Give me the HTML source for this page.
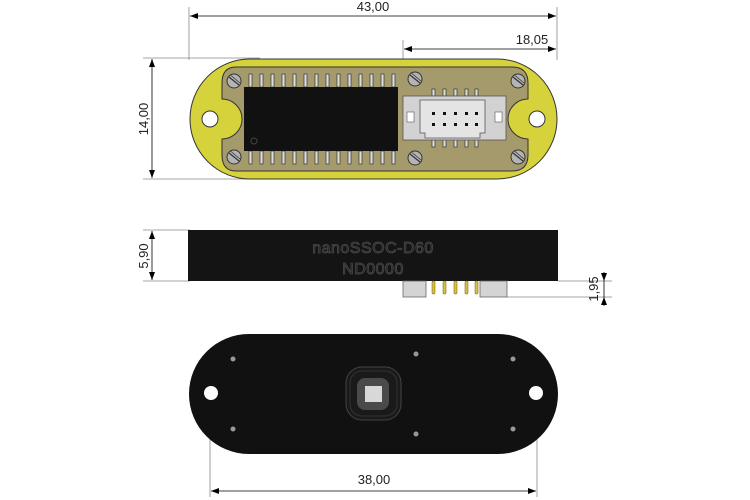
<!DOCTYPE html>
<html><head><style>html,body{margin:0;padding:0;background:#fff;}svg{display:block}</style></head>
<body>
<svg width="750" height="500" viewBox="0 0 750 500" xmlns="http://www.w3.org/2000/svg" font-family="'Liberation Sans', sans-serif">
<defs>
<marker id="a" markerWidth="8" markerHeight="6" refX="8" refY="3" orient="auto-start-reverse" markerUnits="userSpaceOnUse"><path d="M0,0 L8,3 L0,6 z" fill="#000"/></marker>
<g id="screw"><circle r="7" fill="#b4b4b4" stroke="#333" stroke-width="1"/><line x1="-5" y1="-4" x2="5" y2="4" stroke="#333" stroke-width="1.2"/><line x1="-3" y1="-5.5" x2="6" y2="2" stroke="#333" stroke-width="0.8"/></g>
</defs>
<g stroke="#888" stroke-width="0.8" fill="none">
<line x1="189" y1="7" x2="189" y2="60"/><line x1="557" y1="7" x2="557" y2="60"/>
<line x1="403" y1="40" x2="403" y2="96"/>
<line x1="143" y1="58" x2="260" y2="58"/><line x1="143" y1="179" x2="260" y2="179"/>
<line x1="143" y1="230" x2="190" y2="230"/><line x1="143" y1="281" x2="190" y2="281"/>
<line x1="558" y1="281" x2="612" y2="281"/><line x1="507" y1="297" x2="612" y2="297"/>
<line x1="210" y1="393" x2="210" y2="497"/><line x1="537" y1="393" x2="537" y2="497"/>
</g>
<g stroke="#000" stroke-width="0.8">
<line x1="190" y1="16" x2="556" y2="16" marker-start="url(#a)" marker-end="url(#a)"/>
<line x1="404" y1="49" x2="556" y2="49" marker-start="url(#a)" marker-end="url(#a)"/>
<line x1="152" y1="59" x2="152" y2="178" marker-start="url(#a)" marker-end="url(#a)"/>
<line x1="152" y1="231" x2="152" y2="280" marker-start="url(#a)" marker-end="url(#a)"/>
<line x1="604" y1="272" x2="604" y2="281" marker-end="url(#a)"/>
<line x1="604" y1="306" x2="604" y2="297" marker-end="url(#a)"/>
<line x1="604" y1="281" x2="604" y2="297"/>
<line x1="211" y1="491" x2="536" y2="491" marker-start="url(#a)" marker-end="url(#a)"/>
</g>
<g font-size="13" fill="#222" text-anchor="middle">
<text x="373" y="11">43,00</text>
<text x="532" y="44">18,05</text>
<text x="374" y="484">38,00</text>
<text transform="translate(148,119) rotate(-90)">14,00</text>
<text transform="translate(148,256) rotate(-90)">5,90</text>
<text transform="translate(598,289) rotate(-90)">1,95</text>
</g>
<rect x="190" y="59" width="367" height="120" rx="60" fill="#d6d23c" stroke="#333" stroke-width="1"/>
<path d="M236,67 H512 Q528,67 528,83 V99 A20,20 0 0 0 528,139 V155 Q528,171 512,171 H236 Q222,171 222,155 V139 A20,20 0 0 0 222,99 V83 Q222,67 236,67 Z" fill="#a59a6c" stroke="#333" stroke-width="1"/>
<circle cx="210" cy="119" r="8" fill="#fff" stroke="#333"/>
<circle cx="537" cy="119" r="8" fill="#fff" stroke="#333"/>
<g fill="#ddd" stroke="#333" stroke-width="0.7">
<rect x="249" y="74" width="3" height="13"/><rect x="260" y="74" width="3" height="13"/><rect x="271" y="74" width="3" height="13"/><rect x="282" y="74" width="3" height="13"/><rect x="293" y="74" width="3" height="13"/><rect x="304" y="74" width="3" height="13"/><rect x="315" y="74" width="3" height="13"/><rect x="326" y="74" width="3" height="13"/><rect x="337" y="74" width="3" height="13"/><rect x="348" y="74" width="3" height="13"/><rect x="359" y="74" width="3" height="13"/><rect x="370" y="74" width="3" height="13"/><rect x="381" y="74" width="3" height="13"/><rect x="392" y="74" width="3" height="13"/>
<rect x="249" y="151" width="3" height="13"/><rect x="260" y="151" width="3" height="13"/><rect x="271" y="151" width="3" height="13"/><rect x="282" y="151" width="3" height="13"/><rect x="293" y="151" width="3" height="13"/><rect x="304" y="151" width="3" height="13"/><rect x="315" y="151" width="3" height="13"/><rect x="326" y="151" width="3" height="13"/><rect x="337" y="151" width="3" height="13"/><rect x="348" y="151" width="3" height="13"/><rect x="359" y="151" width="3" height="13"/><rect x="370" y="151" width="3" height="13"/><rect x="381" y="151" width="3" height="13"/><rect x="392" y="151" width="3" height="13"/>
<rect x="432" y="89" width="3" height="7"/><rect x="443" y="89" width="3" height="7"/><rect x="454" y="89" width="3" height="7"/><rect x="465" y="89" width="3" height="7"/><rect x="475" y="89" width="3" height="7"/>
<rect x="432" y="140" width="3" height="7"/><rect x="443" y="140" width="3" height="7"/><rect x="454" y="140" width="3" height="7"/><rect x="465" y="140" width="3" height="7"/><rect x="475" y="140" width="3" height="7"/>
</g>
<rect x="244" y="87" width="154" height="64" fill="#111"/>
<circle cx="254" cy="141" r="3" fill="none" stroke="#444"/>
<rect x="403" y="96" width="103" height="44" fill="#d2d2d2" stroke="#555" stroke-width="0.8"/>
<path d="M420,100 H485 V133 H480 V138 H425 V133 H420 Z" fill="#e4e4e4" stroke="#555" stroke-width="0.8"/>
<rect x="407" y="112" width="7" height="10" fill="#fff" stroke="#555" stroke-width="0.6"/>
<rect x="495" y="112" width="7" height="10" fill="#fff" stroke="#555" stroke-width="0.6"/>
<g fill="#111">
<rect x="432" y="112" width="3" height="3"/><rect x="443" y="112" width="3" height="3"/><rect x="454" y="112" width="3" height="3"/><rect x="465" y="112" width="3" height="3"/><rect x="475" y="112" width="3" height="3"/>
<rect x="432" y="123" width="3" height="3"/><rect x="443" y="123" width="3" height="3"/><rect x="454" y="123" width="3" height="3"/><rect x="465" y="123" width="3" height="3"/><rect x="475" y="123" width="3" height="3"/>
</g>
<use href="#screw" x="234" y="81"/><use href="#screw" x="234" y="157"/>
<use href="#screw" x="415" y="79"/><use href="#screw" x="415" y="158"/>
<use href="#screw" x="518" y="81"/><use href="#screw" x="518" y="157"/>
<rect x="188" y="230" width="370" height="51" fill="#141414"/>
<g font-size="16" fill="#1c1c1c" text-anchor="middle" stroke="#4a4a4a" stroke-width="0.8" letter-spacing="0.5">
<text x="373" y="253">nanoSSOC-D60</text>
<text x="373" y="274">ND0000</text>
</g>
<rect x="403" y="281" width="23" height="16" fill="#d4d4d4" stroke="#666" stroke-width="0.8"/>
<rect x="480" y="281" width="27" height="16" fill="#d4d4d4" stroke="#666" stroke-width="0.8"/>
<g fill="#d8c040" stroke="#6a5a10" stroke-width="0.5">
<rect x="432" y="281" width="3" height="13" rx="1"/><rect x="443" y="281" width="3" height="13" rx="1"/><rect x="454" y="281" width="3" height="13" rx="1"/><rect x="465" y="281" width="3" height="13" rx="1"/><rect x="475" y="281" width="3" height="13" rx="1"/>
</g>
<rect x="189" y="334" width="369" height="120" rx="60" fill="#111"/>
<circle cx="211" cy="393" r="7" fill="#fff"/>
<circle cx="536" cy="393" r="7" fill="#fff"/>
<g fill="#999">
<circle cx="233" cy="359" r="2.5"/><circle cx="416" cy="354" r="2.5"/><circle cx="513" cy="359" r="2.5"/>
<circle cx="233" cy="429" r="2.5"/><circle cx="416" cy="434" r="2.5"/><circle cx="513" cy="429" r="2.5"/>
</g>
<rect x="346" y="367" width="55" height="53" rx="16" fill="#1a1a1a" stroke="#444" stroke-width="1"/>
<rect x="350" y="371" width="47" height="45" rx="12" fill="none" stroke="#333" stroke-width="1"/>
<rect x="357" y="378" width="32" height="32" rx="8" fill="#4a4a4a"/>
<rect x="365" y="386" width="17" height="16" fill="#d8d8d8"/>
</svg>
</body></html>
